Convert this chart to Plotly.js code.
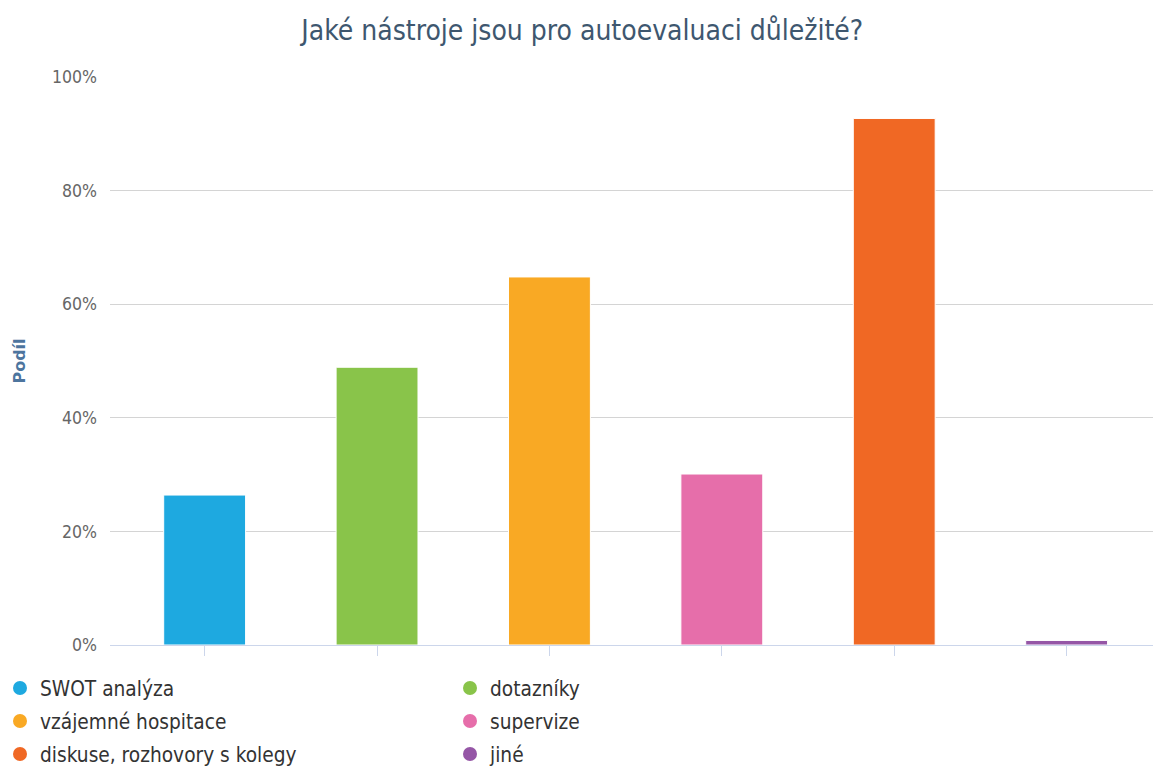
<!DOCTYPE html>
<html>
<head>
<meta charset="utf-8">
<script src="https://cdn.plot.ly/plotly-3.0.1.min.js"></script>
<style>html,body{margin:0;padding:0;background:#fff;}#chart{width:1153px;height:766px;}</style>
</head>
<body>
<div id="chart"></div>
<script>
const categories = ["SWOT analýza", "dotazníky", "vzájemné hospitace", "supervize", "diskuse, rozhovory s kolegy", "jiné"];
const shares = [26.4, 48.9, 64.8, 30.1, 92.7, 0.8];
const colors = ["#1EA9E0", "#89C44A", "#F9A924", "#E66EAA", "#F06824", "#9556A6"];
const legendRows = ["legend", "legend", "legend2", "legend2", "legend3", "legend3"];

const FONT = "DejaVu Sans Condensed, DejaVu Sans, sans-serif";
const traces = [];
categories.forEach((c, i) => {
  traces.push({
    type: "bar",
    x: [c],
    y: [shares[i]],
    width: 0.475,
    name: c,
    marker: {color: colors[i], line: {color: "#ffffff", width: 1}},
    showlegend: false,
    legendgroup: c,
    hovertemplate: "%{x}: %{y}%<extra></extra>"
  });
});
categories.forEach((c, i) => {
  traces.push({
    type: "scatter",
    mode: "markers",
    x: [null],
    y: [null],
    name: c,
    legendgroup: c,
    legend: legendRows[i],
    marker: {color: colors[i], size: 14, symbol: "circle"},
    showlegend: true,
    hoverinfo: "skip"
  });
});

const legendBase = {
  orientation: "h",
  xref: "container",
  yref: "container",
  x: -0.002,
  xanchor: "left",
  yanchor: "middle",
  entrywidth: 405,
  entrywidthmode: "pixels",
  bgcolor: "rgba(0,0,0,0)",
  font: {family: FONT, size: 20.7, color: "#333333"},
  itemclick: false,
  itemdoubleclick: false
};

const layout = {
  width: 1153,
  height: 766,
  margin: {l: 110, r: 0, t: 77, b: 121},
  paper_bgcolor: "#ffffff",
  plot_bgcolor: "#ffffff",
  barmode: "overlay",
  title: {
    text: "Jaké nástroje jsou pro autoevaluaci důležité?",
    font: {family: FONT, size: 28, color: "#3E576F"},
    x: 0.505, xanchor: "center",
    y: 0.961, yanchor: "middle"
  },
  xaxis: {
    type: "category",
    categoryorder: "array",
    categoryarray: categories,
    range: [-0.549, 5.501],
    showticklabels: false,
    ticks: "outside",
    ticklen: 10,
    tickcolor: "#CCD6EB",
    tickwidth: 1,
    showline: true,
    linecolor: "#CCD6EB",
    linewidth: 1,
    showgrid: false,
    zeroline: false,
    fixedrange: true
  },
  yaxis: {
    range: [0, 100],
    dtick: 20,
    tick0: 0,
    ticksuffix: "%",
    tickfont: {family: FONT, size: 17.5, color: "#666666"},
    ticks: "",
    ticklabelstandoff: 12,
    showgrid: true,
    gridcolor: "#D4D4D4",
    gridwidth: 1,
    zeroline: false,
    showline: false,
    fixedrange: true,
    title: {
      text: "<b>Podíl</b>",
      font: {family: "DejaVu Sans, sans-serif", size: 16, color: "#4D759E"},
      standoff: 22
    }
  },
  legend: Object.assign({}, legendBase, {y: 1 - 688 / 766}),
  legend2: Object.assign({}, legendBase, {y: 1 - 721 / 766}),
  legend3: Object.assign({}, legendBase, {y: 1 - 754 / 766}),
  showlegend: true
};

Plotly.newPlot("chart", traces, layout, {displayModeBar: false});
</script>
</body>
</html>
